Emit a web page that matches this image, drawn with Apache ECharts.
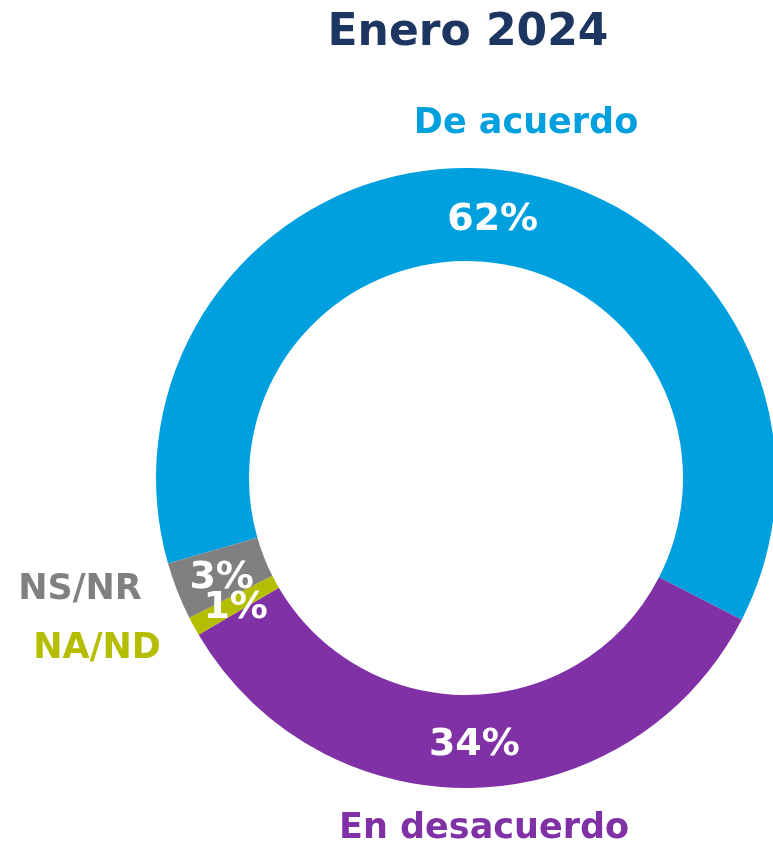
<!DOCTYPE html>
<html>
<head>
  <meta charset="utf-8" />
  <title>Enero 2024</title>
  <style type="text/css">
  body, html, #main {width: 100%; height: 100%; overflow: hidden; margin: 0; background: #fff;}
  </style>
  <script src="https://cdn.jsdelivr.net/npm/echarts@6/dist/echarts.min.js"></script>
</head>
<body>
<div id="main"></div>
<script type="text/javascript">
// datos del gráfico
var titulo = 'Enero 2024';
var categorias = ['De acuerdo', 'En desacuerdo', 'NA/ND', 'NS/NR'];
var valores = [62, 34, 1, 3];
var colores = ['#00A0DF', '#7F31A5', '#B5BD00', '#808080'];

// posición de las etiquetas de categoría (fuera del anillo)
var posEtiquetas = [[526, 124], [484, 829], [97, 649], [80, 590]];

var fuente = '"DejaVu Sans", sans-serif';
var centro = [466, 478];
var radios = [217, 310];
var inicio = 196;

var chart = echarts.init(document.getElementById('main'));

var datos = categorias.map(function (c, i) {
    return {name: c, value: valores[i], itemStyle: {color: colores[i]}};
});

// etiquetas de porcentaje: punto medio de cada sector en coordenadas polares
var total = valores.reduce(function (a, b) { return a + b; }, 0);
var acum = 0;
var puntosEtiqueta = valores.map(function (v, i) {
    var medio = acum + v / 2;
    acum += v;
    return {name: categorias[i], value: [(radios[0] + radios[1]) / 2, medio], pct: v};
});

var textos = categorias.map(function (c, i) {
    return {
        type: 'text',
        x: posEtiquetas[i][0],
        y: posEtiquetas[i][1],
        style: {
            text: c,
            fill: colores[i],
            font: 'bold 35px ' + fuente,
            textAlign: 'center',
            textVerticalAlign: 'middle'
        }
    };
});

var option = {
    animation: false,
    title: {
        text: titulo,
        left: 463,
        top: 7,
        textAlign: 'center',
        textStyle: {color: '#1D3561', fontSize: 44, fontWeight: 'bold', fontFamily: fuente}
    },
    polar: {center: centro, radius: [0, radios[1]]},
    angleAxis: {type: 'value', min: 0, max: total, startAngle: inicio, clockwise: true, show: false},
    radiusAxis: {type: 'value', min: 0, max: radios[1], show: false},
    graphic: textos,
    series: [{
        type: 'pie',
        center: centro,
        radius: radios,
        startAngle: inicio,
        clockwise: true,
        label: {show: false},
        labelLine: {show: false},
        emphasis: {disabled: true},
        data: datos
    }, {
        type: 'scatter',
        coordinateSystem: 'polar',
        symbolSize: 1,
        itemStyle: {color: 'rgba(0,0,0,0)', opacity: 1},
        silent: true,
        z: 5,
        label: {
            show: true,
            position: 'inside',
            offset: [1, 4],
            formatter: function (p) { return p.data.pct + '%'; },
            color: '#fff',
            opacity: 1,
            fontSize: 38,
            fontWeight: 'bold',
            fontFamily: fuente
        },
        data: puntosEtiqueta
    }]
};
chart.setOption(option);
</script>
</body>
</html>
